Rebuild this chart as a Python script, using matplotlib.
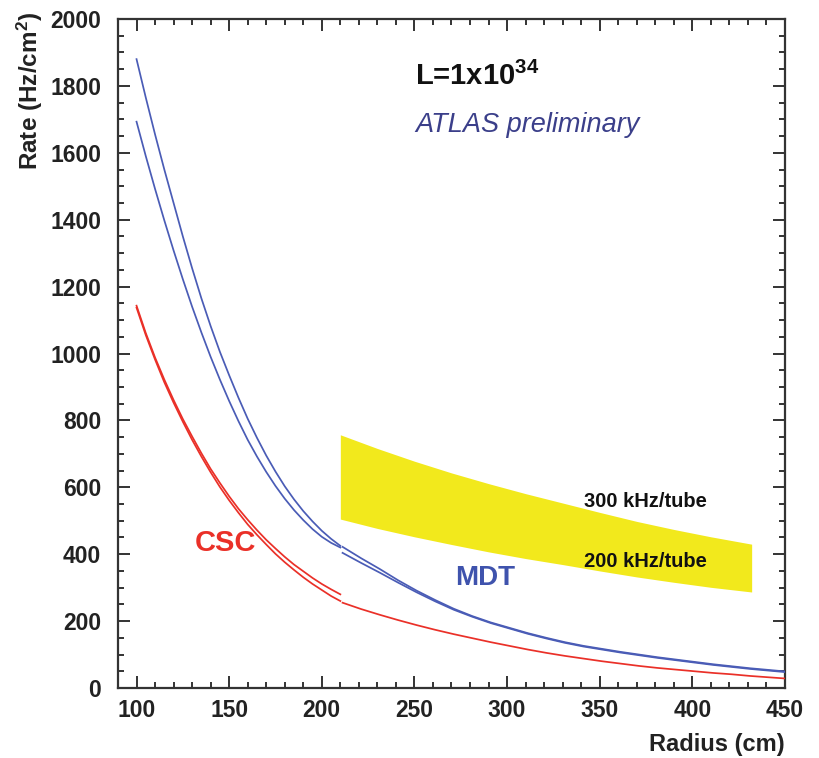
import matplotlib
matplotlib.use("Agg")
import matplotlib.pyplot as plt
from matplotlib.ticker import MultipleLocator

plt.rcParams['font.family'] = ['Liberation Sans', 'DejaVu Sans']
plt.rcParams['mathtext.fontset'] = 'custom'
plt.rcParams['mathtext.rm'] = 'Liberation Sans'
plt.rcParams['mathtext.bf'] = 'Liberation Sans:bold'
plt.rcParams['mathtext.it'] = 'Liberation Sans:italic'

# ---------------- data ----------------
# first region (CSC / inner MDT), radius 100..210 cm
r_inner = [100, 105, 110, 115, 120, 125, 130, 135, 140, 145, 150, 155,
           160, 165, 170, 175, 180, 185, 190, 195, 200, 205, 210]
mdt_inner_hi = [1880, 1765, 1655, 1550, 1450, 1350, 1255, 1165, 1082, 1005, 935, 868,
                805, 748, 695, 647, 603, 564, 529, 498, 470, 446, 425]
mdt_inner_lo = [1693, 1590, 1492, 1398, 1308, 1222, 1140, 1063, 990, 922, 858, 798,
                742, 692, 646, 604, 566, 532, 502, 475, 452, 434, 420]
csc_hi = [1143, 1061, 988, 922, 861, 804, 752, 702, 655, 613, 573, 536,
          503, 472, 443, 417, 392, 369, 349, 329, 311, 295, 280]
csc_lo = [1137, 1055, 982, 914, 853, 796, 742, 692, 645, 601, 561, 524,
          489, 458, 429, 401, 376, 353, 331, 311, 293, 275, 260]

# second region, radius 210..450 cm
r_outer = [210, 220, 230, 240, 250, 260, 270, 280, 290, 300, 310, 320, 330,
           340, 350, 360, 370, 380, 390, 400, 410, 420, 430, 440, 450]
mdt_outer_hi = [422, 388, 356, 322, 291, 263, 237, 215, 196, 180, 164, 150, 137,
                126, 117, 108, 100, 92, 85, 78, 71, 65, 59, 54, 49]
mdt_outer_lo = [404, 374, 345, 315, 286, 259, 234, 213, 194, 178, 162, 148, 135,
                124, 115, 106, 98, 90, 83, 76, 69, 63, 57, 52, 47]
red_outer = [255, 236, 219, 203, 188, 174, 161, 149, 137, 126, 115, 105, 96,
             88, 80, 73, 66, 60, 55, 50, 45, 41, 36, 32, 28]

# MDT tube limits band (300 kHz/tube upper, 200 kHz/tube lower)
r_band = [210, 230, 250, 270, 290, 310, 330, 350, 370, 390, 410, 432]
band_300 = [757, 716, 678, 643, 611, 581, 553, 525, 498, 474, 452, 430]
band_200 = [505, 477, 452, 429, 407, 387, 369, 350, 332, 316, 301, 287]

x_ticks = [100, 150, 200, 250, 300, 350, 400, 450]
y_ticks = [0, 200, 400, 600, 800, 1000, 1200, 1400, 1600, 1800, 2000]

# ---------------- styling ----------------
BLUE = '#4a5cb6'
RED = '#ea3028'
YELLOW = '#f2e91c'
FRAME = '#333333'

fig = plt.figure(figsize=(8.19, 7.58), dpi=100)
ax = fig.add_axes([118/819, 1 - 688/758, (785 - 118)/819, (688 - 19)/758])

ax.fill_between(r_band, band_200, band_300, color=YELLOW, lw=0, zorder=1)

lw = 1.25
ax.plot(r_inner, mdt_inner_hi, color=BLUE, lw=lw, zorder=3)
ax.plot(r_inner, mdt_inner_lo, color=BLUE, lw=lw, zorder=3)
ax.plot(r_inner, csc_hi, color=RED, lw=lw, zorder=3)
ax.plot(r_inner, csc_lo, color=RED, lw=lw, zorder=3)
r_outer_shift = [v + 1.2 for v in r_outer]
ax.plot(r_outer_shift, mdt_outer_hi, color=BLUE, lw=lw, zorder=3)
ax.plot(r_outer_shift, mdt_outer_lo, color=BLUE, lw=lw, zorder=3)
ax.plot(r_outer_shift, red_outer, color=RED, lw=lw, zorder=3)

ax.set_xlim(90, 450)
ax.set_ylim(0, 2000)
ax.set_xticks(x_ticks)
ax.set_yticks(y_ticks)
ax.xaxis.set_minor_locator(MultipleLocator(10))
ax.yaxis.set_minor_locator(MultipleLocator(50))

for s in ax.spines.values():
    s.set_linewidth(1.6)
    s.set_color(FRAME)

ax.tick_params(which='both', direction='in', top=True, right=True,
               color=FRAME, width=1.4)
ax.tick_params(which='major', length=8.5)
ax.tick_params(which='minor', length=4.3)
ax.tick_params(axis='x', which='major', pad=8, labelsize=16.5)
ax.tick_params(axis='y', which='major', pad=12, labelsize=16.5)
for lab in ax.get_xticklabels() + ax.get_yticklabels():
    lab.set_fontweight('bold')
    lab.set_color('#222222')

fig.text(30/819, 1 - 12/758, r'Rate (Hz/cm$^{\mathbf{2}}$)', rotation=90,
         ha='center', va='top', fontsize=17.5, fontweight='bold', color='#222222')
fig.text(785/819, 1 - 745/758, 'Radius (cm)', ha='right', va='center',
         fontsize=17, fontweight='bold', color='#222222')

ax.text(250.5, 1803, r'L=1x10$^{\mathbf{34}}$', fontsize=21, fontweight='bold',
        color='#111111', ha='left', va='baseline')
ax.text(250.5, 1683, 'ATLAS preliminary', fontsize=19.5, style='italic',
        color='#3b3f8a', ha='left', va='center')
ax.text(131.5, 433, 'CSC', fontsize=21, fontweight='bold', color=RED,
        ha='left', va='center')
ax.text(272, 329, 'MDT', fontsize=20, fontweight='bold', color='#3f53ad',
        ha='left', va='center')
ax.text(341.5, 559, '300 kHz/tube', fontsize=14.5, fontweight='bold',
        color='#111111', ha='left', va='center')
ax.text(341.5, 377, '200 kHz/tube', fontsize=14.5, fontweight='bold',
        color='#111111', ha='left', va='center')

fig.savefig('out.png', dpi=100)
